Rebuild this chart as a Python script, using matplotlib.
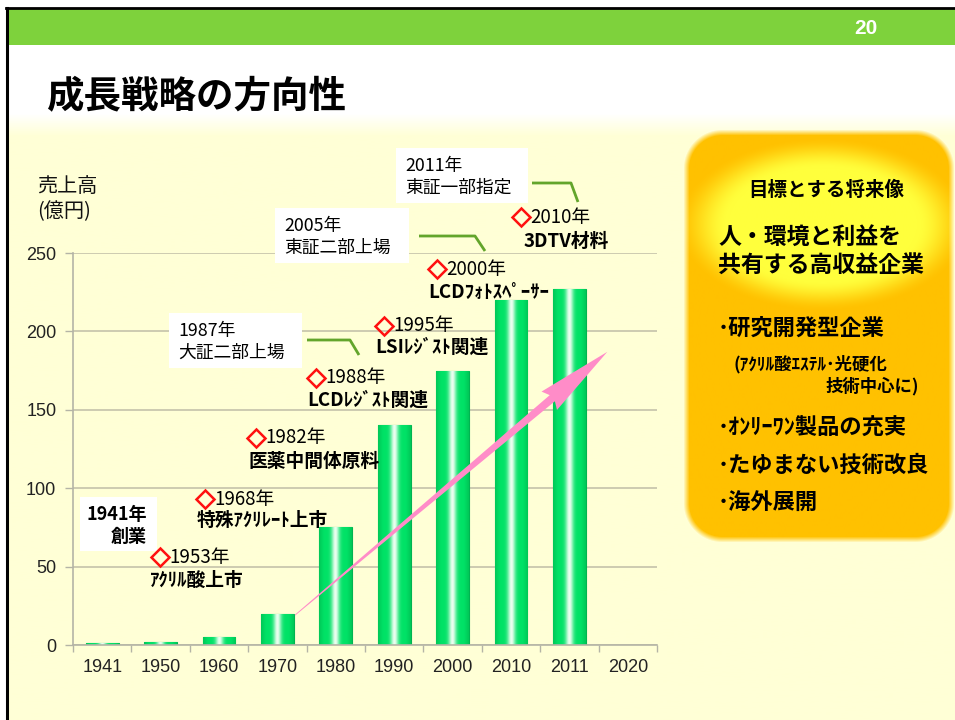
import numpy as np
import matplotlib.pyplot as plt
from matplotlib.patches import Rectangle, Polygon

plt.rcParams['font.family'] = ['Noto Sans CJK JP', 'DejaVu Sans']

# ---- data -------------------------------------------------------------
years = ['1941', '1950', '1960', '1970', '1980', '1990', '2000', '2010', '2011', '2020']
sales = [1, 2, 5, 20, 75, 140, 175, 220, 227, None]   # 億円, 2020 = target (no bar)
y_ticks = [0, 50, 100, 150, 200, 250]

event_years = ['1953年', '1968年', '1982年', '1988年', '1995年', '2000年', '2010年']
event_texts = ['ｱｸﾘﾙ酸上市', '特殊ｱｸﾘﾚｰﾄ上市', '医薬中間体原料', 'LCDﾚｼﾞｽﾄ関連',
               'LSIﾚｼﾞｽﾄ関連', 'LCDﾌｫﾄｽﾍﾟｰｻｰ', '3DTV材料']

listing_texts = ['1987年\n大証二部上場', '2005年\n東証二部上場', '2011年\n東証一部指定']

goal_title = '目標とする将来像'
goal_main = ['人・環境と利益を', '共有する高収益企業']
goal_points = ['･研究開発型企業', '･ｵﾝﾘｰﾜﾝ製品の充実', '･たゆまない技術改良', '･海外展開']
goal_sub = ['(ｱｸﾘﾙ酸ｴｽﾃﾙ･光硬化', '技術中心に)']

# growth arrow, in data units (category index, 億円)
arrow_from = (3.3, 19)
arrow_to = (8.65, 187)

# ---- figure -----------------------------------------------------------
W, H = 955, 720
fig = plt.figure(figsize=(W / 100, H / 100), dpi=100)
fig.patch.set_facecolor('white')

bg = fig.add_axes([0, 0, 1, 1], zorder=0)
bg.set_xlim(0, W)
bg.set_ylim(H, 0)
bg.axis('off')

# yellow slide body with soft top edge
YEL = np.array([255, 255, 214]) / 255
rows = np.linspace(113, H, 300)
t = np.clip((rows - 113) / 22, 0, 1)[:, None]
body = (1 - t) * np.ones(3) + t * YEL
bg.imshow(body[:, None, :], extent=(9, W, H, 113), aspect='auto', zorder=1)

# header
bg.add_patch(Rectangle((8, 9), W - 8, 36, facecolor='#7ED23C', edgecolor='none', zorder=2))
bg.plot([6, W], [8, 8], color='black', lw=2, zorder=3)
bg.plot([7, 7], [8, H], color='black', lw=2.2, zorder=3)
bg.text(866, 29, '20', color='white', fontsize=15, fontweight='bold',
        family='Liberation Sans', ha='center', va='center', zorder=4)
bg.text(46, 96, '成長戦略の方向性', fontsize=27, fontweight='bold', ha='left', va='center', zorder=4)

# right panel: rounded orange box with yellow glow, soft edges
px0, px1, py0, py1, rad = 686, 952, 132, 540, 36
xs = np.arange(678, W + 1)
ys = np.arange(124, 549)
X, Y = np.meshgrid(xs, ys)
cx, cy = (px0 + px1) / 2, (py0 + py1) / 2
qx = np.abs(X - cx) - ((px1 - px0) / 2 - rad)
qy = np.abs(Y - cy) - ((py1 - py0) / 2 - rad)
sdf = np.hypot(np.maximum(qx, 0), np.maximum(qy, 0)) + np.minimum(np.maximum(qx, qy), 0) - rad
alpha = np.clip(0.5 - sdf / 6, 0, 1)
tg = np.hypot((X - 823) / 118, (Y - 224) / 70)
g = np.clip((1.25 - tg) / 0.45, 0, 1)
g = g * g * (3 - 2 * g)
c_in = np.array([255, 255, 60]) / 255
c_out = np.array([255, 193, 0]) / 255
img = np.zeros(X.shape + (4,))
img[..., :3] = c_out + (c_in - c_out) * g[..., None]
img[..., 3] = alpha
bg.imshow(img, extent=(xs[0], xs[-1], ys[-1], ys[0]), aspect='auto', zorder=2)

# ---- bar chart --------------------------------------------------------
ax = fig.add_axes([73 / W, 75 / H, 584 / W, 392 / H], zorder=1)
ax.patch.set_alpha(0)

idx = [i for i, v in enumerate(sales) if v is not None]
vals = [sales[i] for i in idx]
bw = 0.56
bars = ax.bar(idx, vals, width=bw, color='#00E064', edgecolor='#00B451', linewidth=0.8, zorder=2)

u = np.linspace(0, 1, 80)
hl = np.exp(-((u - 0.5) / 0.12) ** 2)
edge = np.clip(np.abs(u - 0.5) * 2 - 0.7, 0, 1) / 0.3
green = np.array([0, 226, 102]) / 255
dark = np.array([0, 200, 88]) / 255
white = np.array([235, 255, 240]) / 255
base = green[None, :] * (1 - edge[:, None]) + dark[None, :] * edge[:, None]
grad = base * (1 - hl[:, None]) + white[None, :] * hl[:, None]
for b in bars:
    x0, w, h = b.get_x(), b.get_width(), b.get_height()
    im = ax.imshow(grad[None, :, :], extent=(x0, x0 + w, 0, h), aspect='auto', zorder=2.5)
    im.set_clip_path(b)

ax.set_xlim(-0.5, len(years) - 0.5)
ax.set_ylim(0, 250)
ax.set_yticks(y_ticks)
ax.set_yticklabels([str(v) for v in y_ticks], family='Liberation Sans', fontsize=13, color='#222222')
ax.set_xticks(range(len(years)))
ax.set_xticklabels(years, family='Liberation Sans', fontsize=13, color='#222222')
ax.set_xticks(np.arange(-0.5, len(years), 1), minor=True)
ax.tick_params(axis='x', which='major', length=0, pad=10)
ax.tick_params(axis='x', which='minor', length=5, color='#B4B4A6', width=1)
ax.tick_params(axis='y', length=6, color='#B4B4A6', width=1, pad=6)
for s in ['top', 'right']:
    ax.spines[s].set_visible(False)
for s in ['left', 'bottom']:
    ax.spines[s].set_color('#B4B4A6')
    ax.spines[s].set_linewidth(1.2)
ax.yaxis.grid(True, color='#C9C7AE', linewidth=1.3)
ax.set_axisbelow(True)

# ---- overlay: annotations, arrow --------------------------------------
ov = fig.add_axes([0, 0, 1, 1], zorder=3)
ov.set_xlim(0, W)
ov.set_ylim(H, 0)
ov.axis('off')
ov.patch.set_alpha(0)


def to_px(pt):
    dx, dy = ax.transData.transform(pt)
    return np.array([dx, H - dy])


S, T = to_px(arrow_from), to_px(arrow_to)
d = (T - S) / np.hypot(*(T - S))
n = np.array([-d[1], d[0]])
head_len, head_w, shaft_w = 72, 24, 8
B = T - d * head_len
arrow_pts = [S + n * 0.4, B + n * shaft_w / 2, B - d * 4 + n * head_w / 2, T,
             B - d * 4 - n * head_w / 2, B - n * shaft_w / 2, S - n * 0.4]
ov.add_patch(Polygon(arrow_pts, closed=True, facecolor='#FF8CC8', edgecolor='none', zorder=2))

# y axis title
ov.text(37, 187, '売上高', fontsize=14.5, ha='left', va='center', color='#111111')
ov.text(37, 212, '(億円)', fontsize=14.5, ha='left', va='center', color='#111111')

# founding box
ov.add_patch(Rectangle((80, 497), 77, 54, facecolor='white', edgecolor='none', zorder=3))
ov.text(147, 514, '1941年', fontsize=13, fontweight='bold', ha='right', va='center', zorder=4)
ov.text(147, 536, '創業', fontsize=13, fontweight='bold', ha='right', va='center', zorder=4)

# product milestones (red diamond + year + product)
diamond_pos = [(160, 557), (205, 499), (256, 438), (316, 378), (384, 326), (437, 269), (521, 217)]
label_pos = [(150, 580), (197, 520), (248, 461), (307, 400), (375, 347), (428, 292), (524, 241)]
for yr, txt, (dx, dy), (lx, ly) in zip(event_years, event_texts, diamond_pos, label_pos):
    ov.plot(dx, dy, marker='D', markersize=9.5, mfc='none', mec='#FF1010', mew=1.8, zorder=4)
    ov.text(dx + 9, dy, yr, fontsize=13.5, ha='left', va='center', zorder=4)
    ov.text(lx, ly, txt, fontsize=13.5, fontweight='bold', ha='left', va='center', zorder=4)

# listing boxes with green connectors
box_rects = [(169, 313, 133, 55), (275, 208, 134, 55), (396, 148, 132, 55)]
connectors = [[(307, 340), (350, 340), (359, 355)],
              [(419, 236), (475, 236), (485, 251)],
              [(532, 183), (571, 183), (578, 202)]]
for txt, (bx, by, bwid, bht), con in zip(listing_texts, box_rects, connectors):
    ov.add_patch(Rectangle((bx, by), bwid, bht, facecolor='white', edgecolor='none', zorder=3))
    l1, l2 = txt.split('\n')
    ov.text(bx + 9, by + 18, l1, fontsize=12.8, ha='left', va='center', zorder=4)
    ov.text(bx + 9, by + 40, l2, fontsize=12.8, ha='left', va='center', zorder=4)
    cxs, cys = zip(*con)
    ov.plot(cxs, cys, color='#63A52B', lw=2, solid_capstyle='butt', zorder=4)

# right panel texts
ov.text(826, 190, goal_title, fontsize=14, fontweight='bold', ha='center', va='center', zorder=4)
ov.text(718, 237, goal_main[0], fontsize=16.5, fontweight='bold', ha='left', va='center', zorder=4)
ov.text(718, 265, goal_main[1], fontsize=16.5, fontweight='bold', ha='left', va='center', zorder=4)
ov.text(718, 328, goal_points[0], fontsize=16, fontweight='bold', ha='left', va='center', zorder=4)
ov.text(733, 364, goal_sub[0], fontsize=12.5, fontweight='bold', ha='left', va='center', zorder=4)
ov.text(919, 386, goal_sub[1], fontsize=12.5, fontweight='bold', ha='right', va='center', zorder=4)
for txt, yy in zip(goal_points[1:], [428, 465, 502]):
    ov.text(718, yy, txt, fontsize=16, fontweight='bold', ha='left', va='center', zorder=4)

fig.savefig('out.png', dpi=100)
